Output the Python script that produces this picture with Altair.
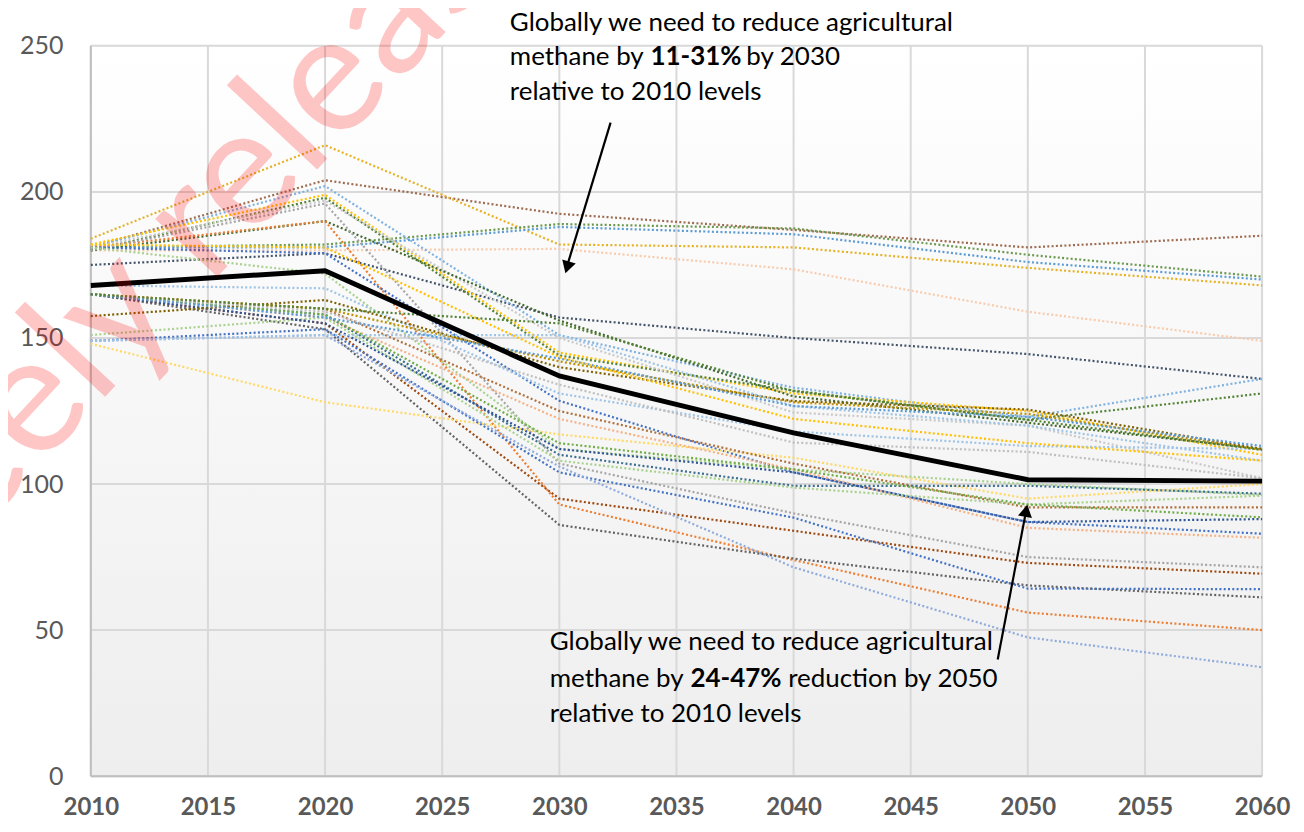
import altair as alt
import pandas as pd

# ---------------- data ----------------
years = [2010, 2020, 2030, 2040, 2050, 2060]
scenarios = [f"S{i:02d}" for i in range(1, 35)]
colors = [
    "#9E6B4F", "#E6B123", "#6A994E", "#5B9BD5", "#F8CBAD", "#44546A", "#7FB2E0",
    "#FFC000", "#548235", "#C9C9C9", "#43682B", "#ED7D31", "#A5A5A5", "#636363",
    "#9E480E", "#4472C4", "#9DC3E6", "#A9D18E", "#FFD966", "#B0703C", "#F4B183",
    "#3B6E8F", "#A9D18E", "#4472C4", "#8FAADC", "#2F5597", "#70AD47", "#7F6000",
    "#BF9000", "#9DC3E6", "#BFBFBF", "#5B9BD5", "#FFC000", "#548235",
]
v2010 = [181, 184, 181, 181, 180, 175, 181, 182, 180, 181, 180, 181, 180, 165,
         165, 181, 168, 181, 148, 165, 165, 165, 151, 149, 149, 165, 165, 157.5,
         165, 149, 165, 165, 182, 165]
v2020 = [204, 216, 182, 181, 180, 179, 202, 199, 198, 197, 190, 190, 196, 153,
         155, 179, 167, 172, 128, 160, 157, 158, 157, 153, 151, 155, 158, 163,
         160, 151, 159, 157, 181, 160]
v2030 = [192.5, 182, 189, 188, 180.5, 157, 151, 145, 144, 150, 156, 93, 107, 86,
         95, 128.5, 131, 112, 117, 125, 122.3, 110, 108, 104, 106, 112, 114, 140,
         142, 151, 134, 143, 143.5, 155]
v2040 = [187, 181, 187.5, 185.5, 173.5, 150, 133, 131, 132, 124.5, 130, 74, 90,
         74.5, 84, 104, 118, 105, 109, 107, 105, 99.4, 98.8, 88.5, 71.5, 104, 105,
         128.4, 128, 126.7, 114.2, 126.7, 122.3, 131.8]
v2050 = [181, 174, 178.5, 176, 159, 144.5, 123, 125, 122, 120, 121, 56, 75, 65.3,
         73, 87, 113, 100, 95, 92, 85, 99.4, 93, 64.2, 47.5, 87, 93, 125.5, 124,
         120, 111, 123, 114, 122]
v2060 = [185, 168, 171, 170, 149, 136, 136, 110, 131, 102, 112, 50, 71.5, 61.2,
         69.3, 83, 112, 96.3, 100, 92, 81.6, 96.7, 96, 64, 37.3, 88, 88.6, 112,
         111.7, 108, 102, 113, 108, 111.7]
median = [168, 173, 137, 117.5, 101.5, 101]

x_ticks = [2010, 2015, 2020, 2025, 2030, 2035, 2040, 2045, 2050, 2055, 2060]
y_ticks = [0, 50, 100, 150, 200, 250]

rows = []
for i, s in enumerate(scenarios):
    for y, arr in zip(years, [v2010, v2020, v2030, v2040, v2050, v2060]):
        rows.append({"scenario": s, "year": y, "value": arr[i]})
df = pd.DataFrame(rows)
df_med = pd.DataFrame({"year": years, "value": median})
df_xt = pd.DataFrame({"year": x_ticks})
df_yt = pd.DataFrame({"value": y_ticks})
df_xb = pd.DataFrame({"year": x_ticks[:1]})
df_yb = pd.DataFrame({"value": y_ticks[:1]})

W, H = 1174, 732
FONT = "Lato"
TS = 26  # annotation font size

xs = alt.Scale(domain=[2010, 2060], nice=False)
ys = alt.Scale(domain=[0, 250], nice=False)

x_enc = alt.X("year:Q", scale=xs,
              axis=alt.Axis(values=x_ticks, format="d", title=None,
                            labelFontSize=24, labelFontWeight="bold",
                            labelColor="#595959", labelPadding=19, ticks=False,
                            labelFlush=False, domain=False, grid=False,
                            labelFont=FONT))
y_enc = alt.Y("value:Q", scale=ys,
              axis=alt.Axis(values=y_ticks, title=None, labelFontSize=25,
                            labelColor="#595959", labelPadding=28, ticks=False,
                            labelFlush=False, domain=False, grid=False,
                            labelFont=FONT))

one = pd.DataFrame({"a": [0]})

bg = alt.Chart(one).mark_rect(
    fill=alt.Gradient(gradient="linear",
                      stops=[alt.GradientStop(color="#ffffff", offset=0),
                             alt.GradientStop(color="#eeeeee", offset=1)],
                      x1=0, x2=0, y1=0, y2=1)
).encode(x=alt.value(0), x2=alt.value(W), y=alt.value(0), y2=alt.value(H))

vgrid = alt.Chart(df_xt).mark_rule(color="#d9d9d9", strokeWidth=2).encode(
    x=alt.X("year:Q", scale=xs))
hgrid = alt.Chart(df_yt).mark_rule(color="#d9d9d9", strokeWidth=2).encode(
    y=alt.Y("value:Q", scale=ys))
vbord = alt.Chart(df_xb).mark_rule(color="#bfbfbf", strokeWidth=2).encode(
    x=alt.X("year:Q", scale=xs))
hbord = alt.Chart(df_yb).mark_rule(color="#bfbfbf", strokeWidth=2).encode(
    y=alt.Y("value:Q", scale=ys))

lines = alt.Chart(df).mark_line(strokeWidth=2.2, strokeDash=[2, 2.3], strokeCap="butt").encode(
    x=x_enc, y=y_enc,
    color=alt.Color("scenario:N", scale=alt.Scale(domain=scenarios, range=colors), legend=None),
    detail="scenario:N",
)

med = alt.Chart(df_med).mark_line(strokeWidth=5, color="#000000").encode(
    x="year:Q", y="value:Q")


def txt(s, x, y, bold=False):
    return alt.Chart(one).mark_text(
        text=s, align="left", baseline="middle", font=FONT, fontSize=TS,
        fontWeight="bold" if bold else "normal", color="#000000"
    ).encode(x=alt.value(x), y=alt.value(y))


texts = [
    txt("Globally we need to reduce agricultural", 420, -23),
    txt("methane by", 420, 11),
    txt("11-31%", 561, 11, bold=True),
    txt("by 2030", 657, 11),
    txt("relative to 2010 levels", 420, 46),
    txt("Globally we need to reduce agricultural", 460, 598),
    txt("methane by", 460, 635),
    txt("24-47%", 601, 635, bold=True),
    txt("reduction by 2050", 699, 635),
    txt("relative to 2010 levels", 460, 670),
]

arrow1 = alt.Chart(one).mark_rule(strokeWidth=2.2, color="#000000").encode(
    x=alt.value(521), y=alt.value(77), x2=alt.value(477), y2=alt.value(222))
head1 = alt.Chart(one).mark_point(shape="triangle-up", filled=True, size=200,
                                  color="#000000", opacity=1, angle=197).encode(
    x=alt.value(477.5), y=alt.value(222))
arrow2 = alt.Chart(one).mark_rule(strokeWidth=2.2, color="#000000").encode(
    x=alt.value(909), y=alt.value(615), x2=alt.value(937.5), y2=alt.value(466))
head2 = alt.Chart(one).mark_point(shape="triangle-up", filled=True, size=200,
                                  color="#000000", opacity=1, angle=11).encode(
    x=alt.value(937.5), y=alt.value(466))

watermark = alt.Chart(one).mark_text(
    text="Freely released", align="center", baseline="middle", font=FONT,
    fontSize=168, angle=313, color="#ff0000", opacity=0.22
).encode(x=alt.value(125), y=alt.value(160))

chart = alt.layer(bg, vgrid, hgrid, vbord, hbord, lines, med, *texts, arrow1,
                  head1, arrow2, head2, watermark).properties(
    width=W, height=H,
    autosize="none",
    padding={"left": 83, "top": 37, "right": 34, "bottom": 47},
    background="#ffffff",
).configure_view(stroke=None)

chart.save("out.html", embed_options={"renderer": "svg", "actions": False})
